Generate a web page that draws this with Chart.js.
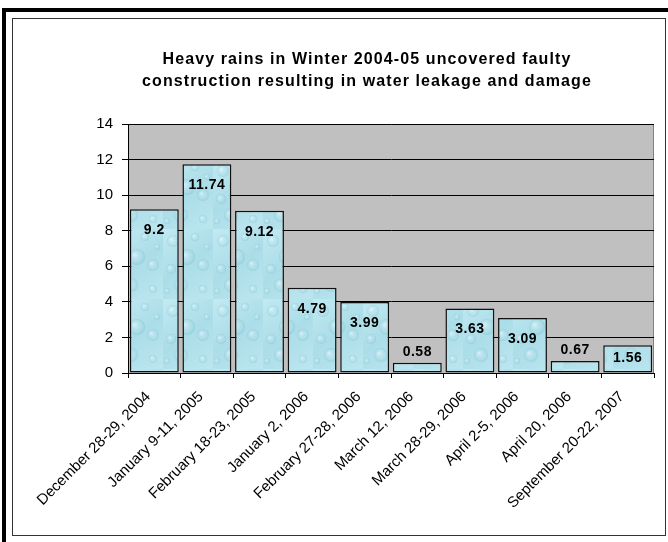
<!DOCTYPE html>
<html><head><meta charset="utf-8">
<script src="https://cdn.jsdelivr.net/npm/chart.js@4/dist/chart.umd.min.js"></script>
<style>
html,body{margin:0;padding:0;background:#fff;width:668px;height:542px;overflow:hidden;}
#outer{position:absolute;left:2px;top:8px;width:700px;height:560px;border:4px solid #000;box-sizing:content-box;}
#inner{position:absolute;left:12px;top:18px;width:652px;height:516px;border:1px solid #333;background:#fff;}
#c{position:absolute;left:0;top:0;}
</style></head>
<body>
<div id="outer"></div>
<div id="inner"><canvas id="c" width="652" height="516"></canvas></div>
<script>
const categories = ["December 28-29, 2004","January 9-11, 2005","February 18-23, 2005","January 2, 2006","February 27-28, 2006","March 12, 2006","March 28-29, 2006","April 2-5, 2006","April 20, 2006","September 20-22, 2007"];
const values = [9.2, 11.74, 9.12, 4.79, 3.99, 0.58, 3.63, 3.09, 0.67, 1.56];
const valueLabels = ["9.2","11.74","9.12","4.79","3.99","0.58","3.63","3.09","0.67","1.56"];
const titleLines = ["Heavy rains in Winter 2004-05 uncovered faulty","construction resulting in water leakage and damage"];
const yMin = 0, yMax = 14, yStep = 2;

function makePattern(ctx){
  const p = document.createElement('canvas');
  p.width = 50; p.height = 70;
  const g = p.getContext('2d');
  const grad = g.createLinearGradient(0,0,50,70);
  grad.addColorStop(0,'#c2eaf2');
  grad.addColorStop(0.5,'#abdde8');
  grad.addColorStop(1,'#bce6ef');
  g.fillStyle = grad; g.fillRect(0,0,50,70);
  const drops = [[10,12,6],[32,8,4],[24,28,8],[8,40,5],[40,36,6],[18,56,7],[40,60,4],[44,18,3],[4,62,3]];
  drops.forEach(([x,y,r])=>{
    const rg = g.createRadialGradient(x-r*0.3,y-r*0.3,r*0.1,x,y,r);
    rg.addColorStop(0,'rgba(255,255,255,0.45)');
    rg.addColorStop(0.6,'rgba(180,225,235,0.15)');
    rg.addColorStop(1,'rgba(100,175,190,0.30)');
    g.fillStyle = rg;
    g.beginPath(); g.arc(x,y,r,0,Math.PI*2); g.fill();
  });
  return ctx.createPattern(p,'repeat');
}

const bgPlugin = {
  id:'bg',
  beforeDraw(chart){
    const {ctx, chartArea:a} = chart;
    ctx.save();
    ctx.fillStyle = '#c0c0c0';
    ctx.fillRect(a.left,a.top,a.right-a.left,a.bottom-a.top);
    ctx.strokeStyle = '#808080'; ctx.lineWidth = 1;
    ctx.beginPath();
    ctx.moveTo(a.left,a.top+0.5); ctx.lineTo(a.right-0.5,a.top+0.5); ctx.lineTo(a.right-0.5,a.bottom);
    ctx.stroke();
    ctx.restore();
  }
};
const titlePlugin = {
  id:'ttl',
  afterDraw(chart){
    const ctx = chart.ctx;
    ctx.save();
    ctx.font = 'bold 16px "Liberation Sans", Arial, sans-serif';
    try{ ctx.letterSpacing = '1.1px'; }catch(e){}
    ctx.fillStyle = '#000'; ctx.textAlign = 'center'; ctx.textBaseline = 'middle';
    ctx.fillText(titleLines[0], 354, 41);
    ctx.fillText(titleLines[1], 354, 63);
    ctx.restore();
  }
};
const labelPlugin = {
  id:'lbl',
  afterDatasetsDraw(chart){
    const ctx = chart.ctx;
    const meta = chart.getDatasetMeta(0);
    ctx.save();
    ctx.font = 'bold 14px "Liberation Sans", Arial, sans-serif';
    try{ ctx.letterSpacing = '0.5px'; }catch(e){}
    ctx.fillStyle = '#000'; ctx.textAlign = 'center'; ctx.textBaseline = 'middle';
    meta.data.forEach((bar,i)=>{
      const top = bar.y, bottom = bar.base;
      const h = bottom - top;
      let y;
      if (h < 20) y = top - 11;
      else y = Math.min(top + 21, (top+bottom)/2 - 1);
      ctx.fillText(valueLabels[i], bar.x, y);
    });
    ctx.restore();
  }
};

const ctx = document.getElementById('c').getContext('2d');
new Chart(ctx, {
  type:'bar',
  data:{labels:categories, datasets:[{data:values, backgroundColor:makePattern(ctx), borderColor:'#111', borderWidth:1.5, borderSkipped:false, barPercentage:0.93, categoryPercentage:1}]},
  options:{
    responsive:false, animation:false,
    layout:{padding:{top:105, right:11, left:0, bottom:0}},
    plugins:{legend:{display:false}, title:{display:false}, tooltip:{enabled:false}},
    scales:{
      x:{
        grid:{offset:true, drawOnChartArea:false, drawTicks:true, tickLength:5, color:'#000', lineWidth:1},
        border:{color:'#000', width:1},
        ticks:{minRotation:45, maxRotation:45, autoSkip:false, color:'#000', padding:10, labelOffset:-6, font:{family:'"Liberation Sans", Arial, sans-serif', size:15}},
        afterFit(s){ s.height = 162; }
      },
      y:{
        min:yMin, max:yMax,
        grid:{color:'#000', lineWidth:1, drawTicks:true, tickLength:6},
        border:{color:'#000', width:1},
        ticks:{stepSize:yStep, color:'#000', padding:9, font:{family:'"Liberation Sans", Arial, sans-serif', size:15}},
        afterFit(s){ s.width = 115; }
      }
    }
  },
  plugins:[bgPlugin, titlePlugin, labelPlugin]
});
</script>
</body></html>
